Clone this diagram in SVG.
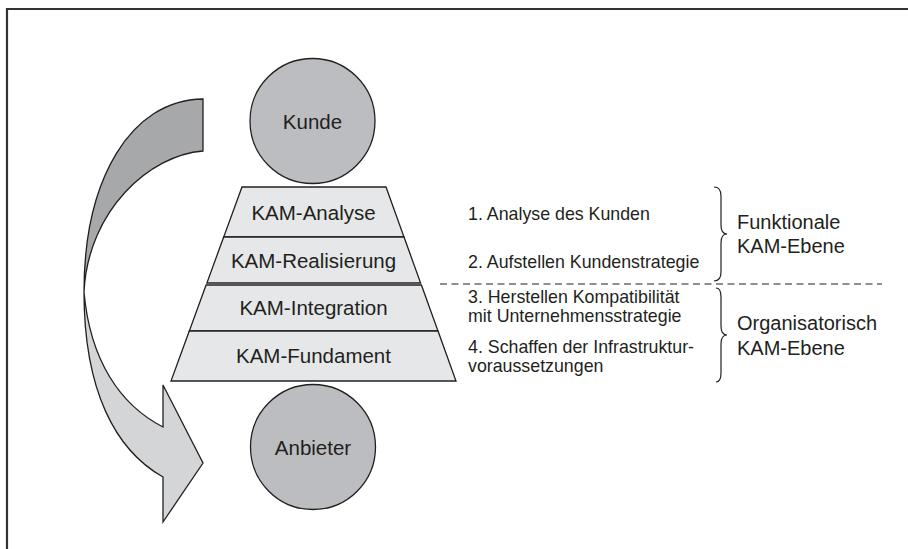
<svg xmlns="http://www.w3.org/2000/svg" width="908" height="549" viewBox="0 0 908 549">
<defs>
<style>
.ln{stroke:#231f20;stroke-width:1.3;stroke-linejoin:miter}
.circ{fill:#bcbdc0;stroke:#231f20;stroke-width:1.3}
.tr{fill:#e6e7e8;stroke:#231f20;stroke-width:1.3}
.lbl{font-family:"Liberation Sans",Arial,sans-serif;font-size:20.5px;fill:#231f20;text-anchor:middle}
.txt{font-family:"Liberation Sans",Arial,sans-serif;font-size:17.8px;fill:#231f20}
.big{font-family:"Liberation Sans",Arial,sans-serif;font-size:20px;fill:#231f20}
.br{fill:none;stroke:#231f20;stroke-width:1.2}
</style>
</defs>
<rect width="908" height="549" fill="#ffffff"/>
<g id="frame">
<path d="M7,549 V9 H908" fill="none" stroke="#333333" stroke-width="2.2"/>
</g>
<g id="arrow">
<path class="ln" fill="#a7a8aa" d="M203,99 C130,100 84,180 84,292 C88,210 150,155 203,151 Z"/>
<path class="ln" fill="#d4d5d7" d="M84,292 C84,390 115,450 163,477 L163,522 L203,463 L163,385 L163,427 C120,405 90,360 84,292 Z"/>
</g>
<g id="kunde">
<circle class="circ" cx="312.5" cy="121" r="62.5"/>
<text class="lbl" x="312.5" y="128.5">Kunde</text>
</g>
<g id="kam-analyse">
<polygon class="tr" points="242,187 386,187 404,237 223.7,237"/>
<text class="lbl" x="313.5" y="219.5">KAM-Analyse</text>
</g>
<g id="kam-realisierung">
<polygon class="tr" points="223.7,237 404,237 420.6,283 206.9,283"/>
<text class="lbl" x="313.5" y="267.5">KAM-Realisierung</text>
</g>
<g id="kam-integration">
<polygon class="tr" points="206.1,285 421.4,285 438,331 189.3,331"/>
<text class="lbl" x="313.5" y="315">KAM-Integration</text>
</g>
<g id="kam-fundament">
<polygon class="tr" points="189.3,331 438,331 456,381 171,381"/>
<text class="lbl" x="313.5" y="363">KAM-Fundament</text>
</g>
<g id="anbieter">
<circle class="circ" cx="313" cy="447" r="62.5"/>
<text class="lbl" x="313" y="454.5">Anbieter</text>
</g>
<g id="connectors">
<line x1="440" y1="284" x2="882" y2="284" stroke="#231f20" stroke-width="1.2" stroke-dasharray="7 4.5"/>
<path class="br" d="M714,187 Q721,187 721,196 L721,225 Q721,234 727,234 Q721,234 721,243 L721,272 Q721,281 714,281"/>
<path class="br" d="M716,288 Q721,288 721,297 L721,326 Q721,335 727,335 Q721,335 721,344 L721,373 Q721,382 716,382"/>
</g>
<g id="steps">
<text class="txt" x="468" y="220">1. Analyse des Kunden</text>
<text class="txt" x="468" y="268">2. Aufstellen Kundenstrategie</text>
<text class="txt" x="468" y="303">3. Herstellen Kompatibilität</text>
<text class="txt" x="468" y="322">mit Unternehmensstrategie</text>
<text class="txt" x="468" y="353">4. Schaffen der Infrastruktur-</text>
<text class="txt" x="468" y="372">voraussetzungen</text>
</g>
<g id="levels">
<text class="big" x="737" y="229">Funktionale</text>
<text class="big" x="737" y="253">KAM-Ebene</text>
<text class="big" x="737" y="330">Organisatorisch</text>
<text class="big" x="737" y="355">KAM-Ebene</text>
</g>
</svg>
